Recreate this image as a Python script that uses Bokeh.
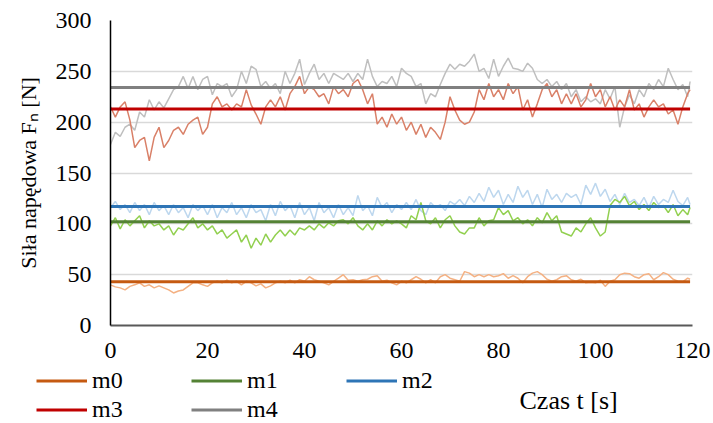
from bokeh.plotting import figure
from bokeh.layouts import column
from bokeh.models import Label, Legend, LegendItem, FixedTicker, Range1d
from bokeh.embed import file_html
from bokeh.resources import INLINE

# Sample times [s]
time_s = list(range(120)) + [119.5]

# Measured driving force [N] for each configuration
force_m0 = [40, 38, 37, 35, 38.5, 40, 42, 38.5, 40, 37,
            39, 37, 35, 32, 34, 35, 38.5, 42, 42, 40,
            38.5, 42, 43.5, 42, 44.5, 42, 43.5, 40, 43.5, 42,
            39, 41, 37, 39, 42, 43.5, 42, 44.5, 42, 45,
            43.5, 48, 45, 43.5, 42, 40, 43.5, 46.5, 50, 44.5,
            45, 43.5, 45, 45.5, 48, 49, 43.5, 44.5, 42, 40,
            43.5, 42, 45, 48, 45.5, 42, 45, 42, 48, 50,
            46.5, 45, 43.5, 53, 51.5, 48, 50, 48, 50, 48,
            49, 51, 46.5, 49, 46.5, 42, 48, 51.5, 53, 50,
            45.5, 43.5, 45, 48, 49, 45, 43.5, 45.5, 42, 42.5,
            42, 44.5, 38.5, 43.5, 45, 50, 51.5, 51, 48, 46.5,
            50, 51, 45, 48, 52, 50, 45.5, 43.5, 43, 46.5, 45.5]

force_m1 = [98, 106, 95, 104, 98, 103, 108, 96, 103, 98,
            100, 94, 98, 89, 96, 94, 100, 106, 96, 100,
            94, 98, 90, 94, 86, 90, 94, 82, 89, 76,
            86, 79, 90, 82, 89, 94, 88, 94, 89, 96,
            94, 98, 94, 100, 96, 101, 98, 103, 104, 100,
            106, 98, 94, 100, 94, 103, 98, 104, 100, 103,
            100, 96, 108, 104, 121, 103, 100, 106, 96, 104,
            108, 98, 92, 90, 96, 96, 106, 98, 103, 104,
            116, 109, 113, 103, 106, 100, 104, 98, 106, 101,
            111, 103, 108, 92, 90, 88, 96, 92, 100, 106,
            96, 88, 92, 118, 124, 121, 127, 118, 122, 114,
            119, 113, 121, 116, 118, 111, 119, 108, 114, 109, 116]

force_m2 = [116, 122, 114, 119, 111, 121, 113, 119, 109, 121,
            113, 118, 109, 119, 111, 116, 106, 119, 113, 118,
            109, 119, 106, 116, 111, 121, 109, 116, 106, 119,
            111, 114, 103, 119, 108, 122, 113, 118, 106, 121,
            109, 116, 103, 121, 111, 116, 106, 119, 109, 116,
            108, 128, 113, 118, 108, 126, 116, 121, 111, 119,
            114, 121, 114, 124, 113, 109, 121, 116, 119, 113,
            122, 119, 124, 118, 127, 121, 130, 122, 136, 126,
            133, 119, 129, 121, 137, 126, 133, 119, 129, 116,
            134, 124, 129, 121, 130, 126, 129, 119, 138, 129,
            140, 127, 134, 122, 129, 119, 130, 121, 124, 118,
            126, 116, 127, 119, 124, 121, 133, 122, 118, 126, 119]

force_m3 = [215, 205, 215, 220, 202, 175, 182, 185, 162, 185,
            195, 175, 182, 192, 195, 188, 198, 202, 205, 188,
            195, 218, 225, 215, 218, 212, 218, 215, 232, 217,
            208, 198, 215, 222, 215, 225, 212, 228, 235, 245,
            228, 235, 232, 225, 228, 218, 235, 228, 232, 225,
            238, 242, 232, 218, 228, 198, 205, 195, 208, 198,
            205, 192, 200, 188, 198, 185, 195, 190, 183, 200,
            225, 212, 202, 198, 200, 210, 232, 222, 238, 225,
            232, 222, 238, 228, 235, 212, 222, 205, 218, 232,
            238, 225, 232, 218, 228, 218, 228, 215, 222, 238,
            225, 232, 215, 225, 212, 222, 215, 232, 212, 218,
            205, 215, 222, 215, 218, 208, 212, 198, 215, 228, 232]

force_m4 = [178, 190, 186, 195, 198, 192, 210, 205, 222, 212,
            220, 214, 223, 232, 235, 245, 233, 245, 232, 242,
            245, 227, 238, 235, 238, 225, 232, 250, 238, 255,
            252, 235, 240, 233, 238, 228, 250, 238, 248, 262,
            237, 248, 257, 242, 248, 238, 248, 245, 242, 248,
            240, 248, 242, 262, 245, 235, 240, 238, 245, 235,
            253, 248, 245, 235, 238, 218, 228, 225, 237, 248,
            257, 252, 257, 255, 260, 267, 250, 253, 243, 262,
            245, 255, 263, 253, 252, 250, 258, 253, 242, 238,
            242, 235, 240, 232, 238, 225, 232, 220, 225, 220,
            223, 218, 232, 223, 235, 195, 215, 227, 218, 232,
            225, 238, 232, 242, 235, 253, 242, 232, 237, 225, 240]

# Average force of each configuration [N]
mean_m0 = 43
mean_m1 = 102
mean_m2 = 117
mean_m3 = 213
mean_m4 = 234

series_names = ["m0", "m1", "m2", "m3", "m4"]
x_ticks = [0, 20, 40, 60, 80, 100, 120]
y_ticks = [0, 50, 100, 150, 200, 250, 300]

FONT = "Liberation Serif"
TICK_SIZE = "24px"
TITLE_SIZE = "22px"
KEY_SIZE = "24px"
XTITLE_SIZE = "26px"

# ---- main chart -------------------------------------------------------
p = figure(width=713, height=366,
           x_range=Range1d(0, 120), y_range=Range1d(0, 300),
           output_backend="svg", toolbar_location=None,
           min_border_left=110, min_border_right=21,
           min_border_top=20, min_border_bottom=41,
           frame_align=False)

p.outline_line_color = None
p.background_fill_color = "white"
p.border_fill_color = "white"
p.xgrid.visible = False
p.ygrid.grid_line_color = "#d9d9d9"
p.ygrid.grid_line_width = 1.5

p.xaxis.ticker = FixedTicker(ticks=x_ticks)
p.yaxis.ticker = FixedTicker(ticks=y_ticks)
for ax in (p.xaxis[0], p.yaxis[0]):
    ax.major_tick_line_color = None
    ax.minor_tick_line_color = None
    ax.major_tick_out = 0
    ax.major_tick_in = 0
    ax.major_label_text_font = FONT
    ax.major_label_text_font_size = TICK_SIZE
    ax.major_label_text_color = "black"
p.yaxis.axis_line_color = "black"
p.yaxis.axis_line_width = 1.5
p.yaxis.major_label_standoff = 19
p.yaxis.axis_label = "Siła napędowa Fₙ [N]"
p.yaxis.axis_label_text_font = FONT
p.yaxis.axis_label_text_font_size = TITLE_SIZE
p.yaxis.axis_label_text_font_style = "normal"
p.yaxis.axis_label_text_color = "black"
p.yaxis.axis_label_standoff = 12
p.xaxis.axis_line_color = "#595959"
p.xaxis.axis_line_width = 2
p.xaxis.major_label_standoff = 17

# raw measurements (light tones)
p.line(time_s, force_m4, line_color="#bfbfbf", line_width=1.5)
p.line(time_s, force_m2, line_color="#bdd7ee", line_width=1.5)
p.line(time_s, force_m3, line_color="#d98068", line_width=1.5)
p.line(time_s, force_m1, line_color="#92d050", line_width=1.5)
p.line(time_s, force_m0, line_color="#f4b183", line_width=1.5)

# average levels (dark tones)
t_span = [time_s[0], time_s[-1]]
mean_colors = ["#c55a11", "#548235", "#2e75b6", "#c00000", "#808080"]
mean_values = [mean_m0, mean_m1, mean_m2, mean_m3, mean_m4]
for val, col in zip(mean_values, mean_colors):
    p.line(t_span, [val, val], line_color=col, line_width=3)

# ---- legend strip with the time-axis title ----------------------------
leg = figure(width=713, height=57,
             x_range=Range1d(0, 713), y_range=Range1d(0, 57),
             output_backend="svg", toolbar_location=None,
             x_axis_type=None, y_axis_type=None,
             min_border=0, min_border_left=0, min_border_right=0,
             min_border_top=0, min_border_bottom=0,
             frame_align=False)
leg.outline_line_color = None
leg.xgrid.visible = False
leg.ygrid.visible = False

# key-only renderers: styled like the average lines, nothing to plot
nan = float("nan")
key_renderers = [leg.line([nan], [nan], line_color=col, line_width=3) for col in mean_colors]

legend = Legend(
    items=[LegendItem(label=n, renderers=[r]) for n, r in zip(series_names, key_renderers)],
    orientation="horizontal", ncols=3,
    location=(36, 0),
    glyph_width=51, glyph_height=27, label_height=27,
    label_standoff=5, label_width=97, spacing=2,
    padding=0, margin=0,
    border_line_alpha=0, background_fill_alpha=0,
    label_text_font=FONT, label_text_font_size=KEY_SIZE, label_text_color="black",
)
leg.add_layout(legend, "center")

leg.add_layout(Label(x=519, y=23, text="Czas t [s]",
                     text_font=FONT, text_font_size=XTITLE_SIZE, text_color="black",
                     text_align="left", text_baseline="middle"))

layout = column(p, leg, spacing=0)

open("out.html", "w").write(file_html(layout, INLINE))
